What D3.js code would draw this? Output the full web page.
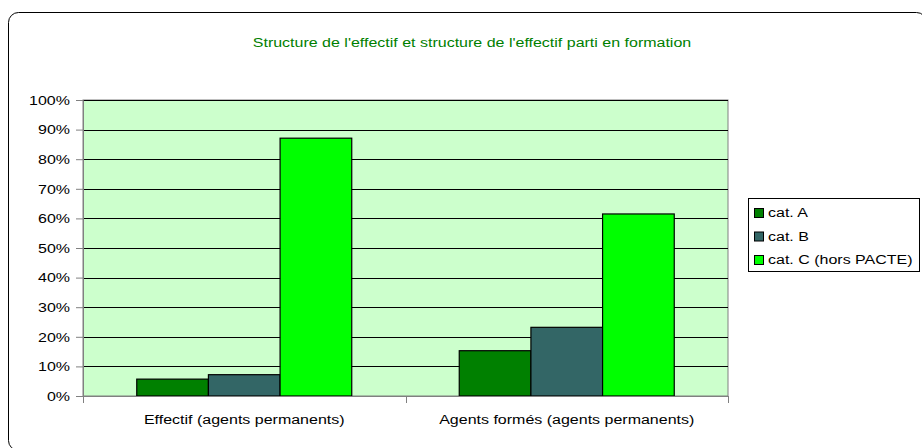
<!DOCTYPE html>
<html>
<head>
<meta charset="utf-8">
<script src="https://cdn.jsdelivr.net/npm/d3@7"></script>
<style>
  html, body { margin: 0; padding: 0; background: #ffffff; }
  svg { display: block; }
  text { font-family: Arial, "Liberation Sans", sans-serif; font-size: 13.5px; fill: #000; }
</style>
</head>
<body>
<svg id="chart" width="922" height="448"></svg>
<script>
// Chart data
const title = "Structure de l'effectif et structure de l'effectif parti en formation";
const categories = ["Effectif (agents permanents)", "Agents formés (agents permanents)"];
const seriesNames = ["cat. A", "cat. B", "cat. C (hors PACTE)"];
const catA = [0.057, 0.153];
const catB = [0.072, 0.232];
const catC = [0.871, 0.615];
const yTicks = [0, 0.1, 0.2, 0.3, 0.4, 0.5, 0.6, 0.7, 0.8, 0.9, 1.0];
const seriesColors = ["#008000", "#336666", "#00ff00"];

const seriesValues = [catA, catB, catC];

const svg = d3.select("#chart");
const stretch = 1.185; // horizontal text stretch of the original layout

// Text helper: stretched horizontally around its anchor point
function label(parent, x, y, str, anchor, color) {
  const g = parent.append("g").attr("transform", `translate(${x},${y}) scale(${stretch},1)`);
  g.append("text").attr("text-anchor", anchor || "start")
    .style("fill", color || "#000").text(str);
  return g;
}

// Outer rounded frame
svg.append("rect")
  .attr("x", 8.5).attr("y", 12.5)
  .attr("width", 918).attr("height", 438)
  .attr("rx", 10).attr("ry", 10)
  .attr("fill", "#ffffff").attr("stroke", "#000").attr("stroke-width", 1);

// Title
label(svg, 472, 47, title, "middle", "#008000");

// Plot area
const plot = { left: 83, right: 728, top: 100, bottom: 396 };

const x0 = d3.scaleBand().domain(categories).range([plot.left, plot.right]).padding(0);
const x1 = d3.scaleBand().domain(seriesNames).range([0, x0.bandwidth()])
  .paddingInner(0).paddingOuter(0.75);
const y = d3.scaleLinear().domain([0, 1]).range([plot.bottom, plot.top]);

svg.append("rect")
  .attr("x", plot.left).attr("y", plot.top)
  .attr("width", plot.right - plot.left).attr("height", plot.bottom - plot.top)
  .attr("fill", "#ccffcc").attr("stroke", "#808080").attr("stroke-width", 1);

// Horizontal gridlines
svg.append("g").selectAll("line")
  .data(yTicks.filter(d => d > 0))
  .join("line")
  .attr("x1", plot.left).attr("x2", plot.right)
  .attr("y1", d => Math.round(y(d)) + 0.5).attr("y2", d => Math.round(y(d)) + 0.5)
  .attr("stroke", "#000").attr("stroke-width", 1);

// Bars
const groups = svg.append("g").selectAll("g")
  .data(categories)
  .join("g")
  .attr("transform", d => `translate(${x0(d)},0)`);

groups.selectAll("rect")
  .data((c, i) => seriesNames.map((s, j) => ({ s, v: seriesValues[j][i], color: seriesColors[j] })))
  .join("rect")
  .attr("x", d => x1(d.s))
  .attr("y", d => y(d.v))
  .attr("width", x1.bandwidth())
  .attr("height", d => y(0) - y(d.v))
  .attr("fill", d => d.color)
  .attr("stroke", "#000").attr("stroke-width", 1.2);

// Y axis
const yAxis = d3.axisLeft(y).tickValues(yTicks).tickSize(7).tickFormat(() => "");
const yg = svg.append("g").attr("transform", `translate(${plot.left},0)`).call(yAxis);
yg.select(".domain").attr("stroke", "#808080");
yg.selectAll(".tick line").attr("stroke", "#808080");
yTicks.forEach(t => label(svg, 70, y(t) + 4.7, d3.format(".0%")(t), "end"));

// X axis (ticks at category boundaries)
const xBounds = [plot.left, ...categories.map(c => x0(c) + x0.bandwidth())];
svg.append("line")
  .attr("x1", plot.left).attr("x2", plot.right)
  .attr("y1", plot.bottom + 0.5).attr("y2", plot.bottom + 0.5)
  .attr("stroke", "#808080");
svg.append("g").selectAll("line")
  .data(xBounds)
  .join("line")
  .attr("x1", d => Math.round(d) + 0.5).attr("x2", d => Math.round(d) + 0.5)
  .attr("y1", plot.bottom).attr("y2", plot.bottom + 7)
  .attr("stroke", "#808080");
categories.forEach(c => label(svg, x0(c) + x0.bandwidth() / 2, 424, c, "middle"));

// Legend
const legend = svg.append("g");
legend.append("rect")
  .attr("x", 748.5).attr("y", 198.5).attr("width", 171).attr("height", 73)
  .attr("fill", "#fff").attr("stroke", "#000");
seriesNames.forEach((s, i) => {
  const base = 217 + i * 23.5;
  legend.append("rect")
    .attr("x", 754.5).attr("y", base - 8.5).attr("width", 9).attr("height", 9)
    .attr("fill", seriesColors[i]).attr("stroke", "#000");
  label(legend, 768, base, s, "start");
});
</script>
</body>
</html>
